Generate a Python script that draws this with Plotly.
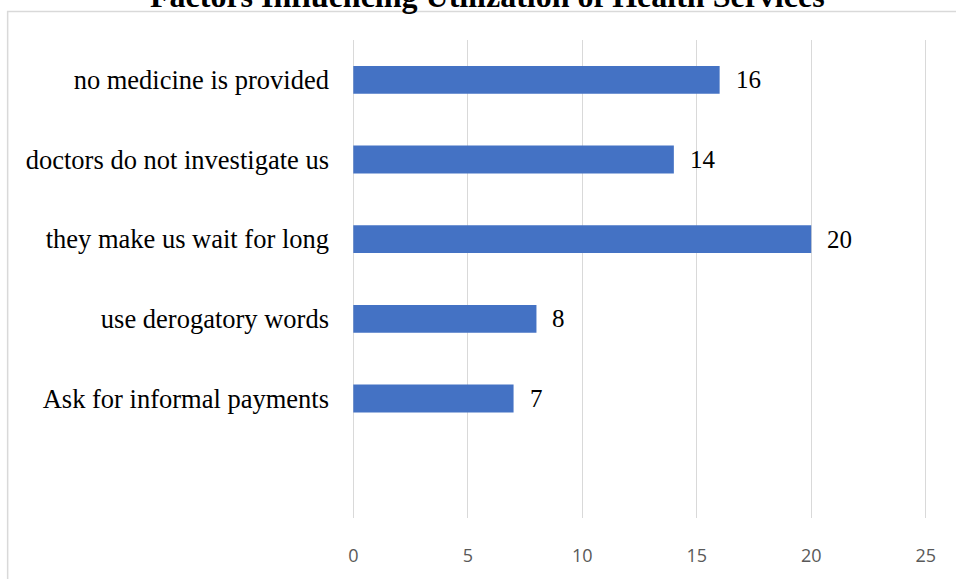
import plotly.graph_objects as go

categories = ["Ask for informal payments", "use derogatory words", "they make us wait for long",
              "doctors do not investigate us", "no medicine is provided"]
values = [7, 8, 20, 14, 16]
x_ticks = [0, 5, 10, 15, 20, 25]
title = "Factors Influencing Utilization of Health Services"

W, H = 956, 579
PX0, PX25 = 353, 926          # pixel positions of 0 and 25
XPAD = 0.1
upx = (PX25 - PX0) / 25.0
L = PX0 - XPAD * upx
R = W - (PX25 + XPAD * upx)
T, B = 40, H - 525
pw, ph = W - L - R, H - T - B

# category positions: bottom slot empty
ypos = [1, 2, 3, 4, 5]

fig = go.Figure()
fig.add_trace(go.Bar(
    x=values, y=ypos, orientation="h",
    marker=dict(color="#4472C4", line=dict(width=0)),
    width=0.35,
))

for v, yp in zip(values, ypos):
    fig.add_annotation(x=v, y=yp, xref="x", yref="y", text=str(v), showarrow=False,
                       xanchor="left", yanchor="middle", xshift=14,
                       font=dict(family="Liberation Serif", size=25, color="#000000"))

def px_x(p):
    return (p - L) / pw

def px_y(p):
    return (H - B - p) / ph

fig.add_shape(type="rect", xref="paper", yref="paper",
              x0=px_x(7), x1=px_x(990), y0=px_y(11), y1=px_y(620),
              line=dict(color="#d9d9d9", width=1.5), fillcolor="rgba(0,0,0,0)", layer="below")

fig.add_annotation(text="<b>" + title + "</b>", xref="paper", yref="paper",
                   x=px_x(487), y=px_y(-5), xanchor="center", yanchor="middle",
                   showarrow=False, font=dict(family="Liberation Serif", size=32, color="#000000"))

fig.update_layout(
    width=W, height=H,
    margin=dict(l=L, r=R, t=T, b=B, pad=0),
    paper_bgcolor="white", plot_bgcolor="white",
    showlegend=False,
    xaxis=dict(range=[-XPAD, 25 + XPAD], tickvals=x_ticks, ticktext=[str(t) for t in x_ticks],
               showgrid=True, gridcolor="#d9d9d9", gridwidth=1.4, zeroline=False,
               showline=False, ticks="", ticklabelstandoff=25,
               tickfont=dict(family="Open Sans", size=18, color="#595959")),
    yaxis=dict(range=[-0.5, 5.5], tickvals=ypos, ticktext=categories,
               showgrid=False, zeroline=False, showline=False, ticks="",
               ticklabelstandoff=21,
               tickfont=dict(family="Liberation Serif", size=26.5, color="#000000")),
)

fig.write_html("out.html")
